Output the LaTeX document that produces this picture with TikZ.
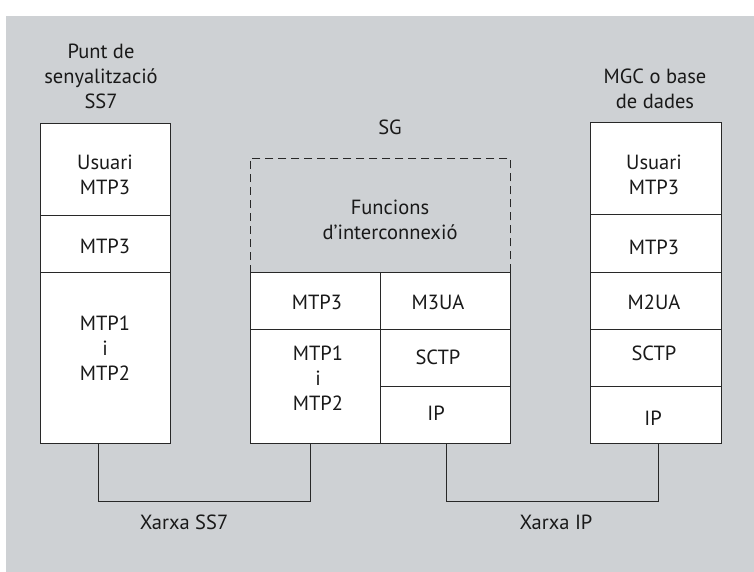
\documentclass[tikz,border=0pt]{standalone}
\usepackage{fontspec}
\setmainfont{PT Sans}
\definecolor{panel}{RGB}{206,209,212}
\definecolor{linec}{RGB}{40,40,40}
\begin{document}
\begin{tikzpicture}[x=1pt,y=-1pt,
  lay/.style={draw=linec, fill=white, line width=1.1pt, inner sep=0pt, anchor=north west},
  txt/.style={font=\fontsize{20.5}{25}\selectfont, align=center, inner sep=0pt, text=black!90},
  conn/.style={draw=linec, line width=0.9pt},
  sgbox/.style={draw=linec, line width=0.9pt, dash pattern=on 8pt off 5pt, anchor=north west, inner sep=0pt}
]
\useasboundingbox (0,0) rectangle (754,572);
\fill[panel] (6,16) rectangle (754,572);

% Left stack
\node[lay, minimum width=130pt, minimum height=92pt] (L1) at (40,123) {};
\node[lay, minimum width=130pt, minimum height=57pt] (L2) at (40,215) {};
\node[lay, minimum width=130pt, minimum height=171pt] (L3) at (40,272) {};
\node[txt] (Lt) at (101,76) {Punt de\\senyalització\\SS7};
\node[txt] (L1t) at (105,175) {Usuari\\MTP3};
\node[txt] (L2t) at (105,246) {MTP3};
\node[txt] (L3t) at (105,348) {MTP1\\i\\MTP2};

% SG
\node[sgbox, minimum width=260pt, minimum height=114pt] (SG) at (250,158) {};
\node[txt] (SGt) at (390,127) {SG};
\node[txt] (SGf) at (390,220) {Funcions\\d’interconnexió};
\node[lay, minimum width=130pt, minimum height=57pt] (S1) at (250,272) {};
\node[lay, minimum width=130pt, minimum height=114pt] (S2) at (250,329) {};
\node[lay, minimum width=130pt, minimum height=57pt] (S3) at (380,272) {};
\node[lay, minimum width=130pt, minimum height=57pt] (S4) at (380,329) {};
\node[lay, minimum width=130pt, minimum height=57pt] (S5) at (380,386) {};
\node[txt] (S1t) at (317,302) {MTP3};
\node[txt] (S2t) at (318,378) {MTP1\\i\\MTP2};
\node[txt] (S3t) at (438,302) {M3UA};
\node[txt] (S4t) at (438,357) {SCTP};
\node[txt] (S5t) at (436,413) {IP};

% Right stack
\node[lay, minimum width=131pt, minimum height=92pt] (R1) at (590,122) {};
\node[lay, minimum width=131pt, minimum height=58pt] (R2) at (590,214) {};
\node[lay, minimum width=131pt, minimum height=57pt] (R3) at (590,272) {};
\node[lay, minimum width=131pt, minimum height=57pt] (R4) at (590,329) {};
\node[lay, minimum width=131pt, minimum height=57pt] (R5) at (590,386) {};
\node[txt] (Rt) at (655,89) {MGC o base\\de dades};
\node[txt] (R1t) at (654,175) {Usuari\\MTP3};
\node[txt] (R2t) at (654,247) {MTP3};
\node[txt] (R3t) at (654,302) {M2UA};
\node[txt] (R4t) at (654,353) {SCTP};
\node[txt] (R5t) at (653,418) {IP};

% Connectors
\coordinate (a1) at ([xshift=58pt]L3.south west);
\coordinate (a2) at ([xshift=60pt]S2.south west);
\coordinate (b1) at ([xshift=66pt]S5.south west);
\coordinate (b2) at ([xshift=68pt]R5.south west);
\draw[conn] (a1) -- ++(0,57) -| (a2);
\draw[conn] (b1) -- ++(0,57) -| (b2);
\node[txt] (n1) at (184,522) {Xarxa SS7};
\node[txt] (n2) at (556,522) {Xarxa IP};
\end{tikzpicture}
\end{document}
